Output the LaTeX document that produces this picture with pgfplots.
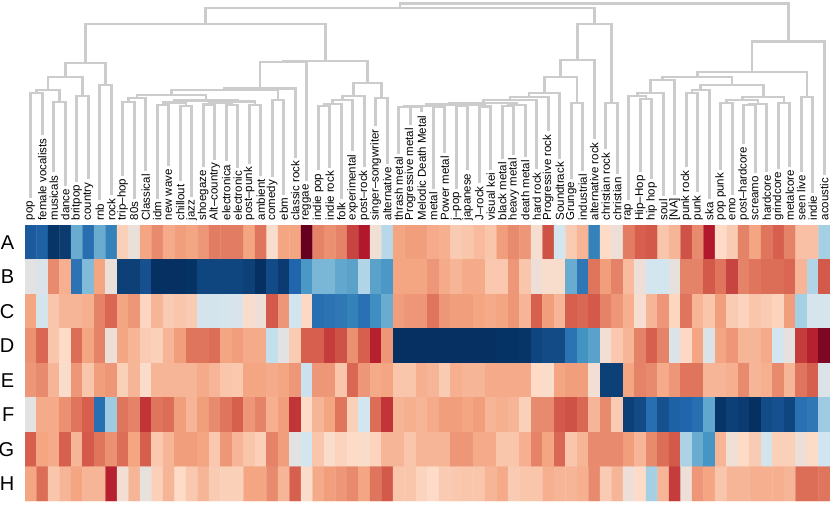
\documentclass[border=0pt]{standalone}
\usepackage{fontspec}
\setmainfont{Liberation Sans}
\usepackage{pgfplots}
\pgfplotsset{compat=1.18}
\definecolor{dendro}{RGB}{204,204,204}
\begin{document}
\begin{tikzpicture}
\useasboundingbox (0,0) rectangle (830bp,-505bp);
% ---------------- dendrogram ----------------
\begin{axis}[at={(25bp,0bp)}, anchor=north west, width=805bp, height=225bp, scale only axis,
  xmin=25, xmax=830, ymin=0, ymax=225, y dir=reverse, hide axis, clip=false]
\addplot[draw=dendro, line width=2.7bp, mark=none, unbounded coords=jump, line join=miter] coordinates {
(30.75,197.8) (30.75,93) (42.25,93) (42.25,135.2) (0,nan)
(53.75,172.3) (53.75,102) (65.25,102) (65.25,185.7) (0,nan)
(36.5,93) (36.5,90) (59.5,90) (59.5,102) (0,nan)
(76.75,181.8) (76.75,96) (88.25,96) (88.25,179.3) (0,nan)
(48,90) (48,77) (82.5,77) (82.5,96) (0,nan)
(99.75,200.4) (99.75,85) (111.25,85) (111.25,195.3) (0,nan)
(65.25,77) (65.25,63) (105.5,63) (105.5,85) (0,nan)
(122.75,175.5) (122.75,102) (134.25,102) (134.25,198.5) (0,nan)
(128.5,102) (128.5,98) (145.75,98) (145.75,171) (0,nan)
(157.25,198.5) (157.25,105) (168.75,105) (168.75,165.9) (0,nan)
(180.25,181.2) (180.25,106) (191.75,106) (191.75,196.6) (0,nan)
(163,105) (163,102.5) (186,102.5) (186,106) (0,nan)
(203.25,167.1) (203.25,104.5) (214.75,104.5) (214.75,159.5) (0,nan)
(226.25,161.4) (226.25,105) (237.75,105) (237.75,167.8) (0,nan)
(209,104.5) (209,102.5) (232,102.5) (232,105) (0,nan)
(249.25,163.9) (249.25,105) (260.75,105) (260.75,176.1) (0,nan)
(220.5,102.5) (220.5,101.5) (255,101.5) (255,105) (0,nan)
(174.5,102.5) (174.5,100.5) (237.75,100.5) (237.75,101.5) (0,nan)
(137.125,98) (137.125,95) (206.125,95) (206.125,100.5) (0,nan)
(272.25,176.7) (272.25,100) (283.75,100) (283.75,194.6) (0,nan)
(171.625,95) (171.625,90) (278,90) (278,100) (0,nan)
(224.81,90) (224.81,88.5) (295.25,88.5) (295.25,157.6) (0,nan)
(260.03,88.5) (260.03,62) (306.75,62) (306.75,181.2) (0,nan)
(318.25,170.3) (318.25,106) (329.75,106) (329.75,167.8) (0,nan)
(324,106) (324,104) (341.25,104) (341.25,199.1) (0,nan)
(332.63,104) (332.63,100) (352.75,100) (352.75,151.2) (0,nan)
(342.69,100) (342.69,96) (364.25,96) (364.25,167.1) (0,nan)
(375.75,126.3) (375.75,98) (387.25,98) (387.25,164) (0,nan)
(353.47,96) (353.47,83) (381.5,83) (381.5,98) (0,nan)
(283.39,62) (283.39,61) (367.48,61) (367.48,83) (0,nan)
(85.38,63) (85.38,24) (325.44,24) (325.44,61) (0,nan)
(398.75,153.7) (398.75,107) (410.25,107) (410.25,125) (0,nan)
(404.5,107) (404.5,106.5) (421.75,106.5) (421.75,112.2) (0,nan)
(433.25,188.9) (433.25,107) (444.75,107) (444.75,153.1) (0,nan)
(413.13,106.5) (413.13,106) (439,106) (439,107) (0,nan)
(456.25,188.9) (456.25,106) (467.75,106) (467.75,170.3) (0,nan)
(479.25,183.1) (479.25,106.5) (490.75,106.5) (490.75,169.7) (0,nan)
(462,106) (462,105) (485,105) (485,106.5) (0,nan)
(426.06,106) (426.06,104.5) (473.5,104.5) (473.5,105) (0,nan)
(502.25,158.8) (502.25,106) (513.75,106) (513.75,155) (0,nan)
(508,106) (508,105) (525.25,105) (525.25,156.9) (0,nan)
(449.78,104.5) (449.78,103) (516.63,103) (516.63,105) (0,nan)
(483.2,103) (483.2,100) (536.75,100) (536.75,169.1) (0,nan)
(509.98,100) (509.98,97) (548.25,97) (548.25,131.4) (0,nan)
(529.1,97) (529.1,93) (559.75,93) (559.75,158.8) (0,nan)
(571.25,178.6) (571.25,103) (582.75,103) (582.75,171) (0,nan)
(544.4,93) (544.4,77) (577,77) (577,103) (0,nan)
(560.7,77) (560.7,60) (594.25,60) (594.25,139) (0,nan)
(605.75,149.3) (605.75,103) (617.25,103) (617.25,174.2) (0,nan)
(577.5,60) (577.5,24) (611.5,24) (611.5,103) (0,nan)
(205.41,24) (205.41,8) (594.5,8) (594.5,24) (0,nan)
(640.25,172.3) (640.25,99) (651.75,99) (651.75,179.3) (0,nan)
(628.75,200.4) (628.75,96) (646,96) (646,99) (0,nan)
(637.38,96) (637.38,93) (663.25,93) (663.25,195.9) (0,nan)
(650.31,93) (650.31,80) (674.75,80) (674.75,194.6) (0,nan)
(686.25,167.1) (686.25,93) (697.75,93) (697.75,192.1) (0,nan)
(692,93) (692,90) (709.25,90) (709.25,199.1) (0,nan)
(720.75,169.7) (720.75,103) (732.25,103) (732.25,194.6) (0,nan)
(743.75,143.5) (743.75,105) (755.25,105) (755.25,172.9) (0,nan)
(749.5,105) (749.5,104) (766.75,104) (766.75,171.6) (0,nan)
(726.5,103) (726.5,100) (758.13,100) (758.13,104) (0,nan)
(778.25,169.1) (778.25,103) (789.75,103) (789.75,166.5) (0,nan)
(742.31,100) (742.31,97) (784,97) (784,103) (0,nan)
(700.63,90) (700.63,85) (763.16,85) (763.16,97) (0,nan)
(662.53,80) (662.53,77) (731.89,77) (731.89,85) (0,nan)
(801.25,171.6) (801.25,97) (812.75,97) (812.75,192.7) (0,nan)
(697.21,77) (697.21,72) (807,72) (807,97) (0,nan)
(752.1,72) (752.1,41.7) (824.25,41.7) (824.25,174.8) (0,nan)
(399.96,8) (399.96,3.5) (788.18,3.5) (788.18,41.7)
};
\end{axis}
% ---------------- heatmap ----------------
\begin{axis}[at={(25bp,-225bp)}, anchor=north west, width=805bp, height=276bp, scale only axis,
  xmin=0.5, xmax=70.5, ymin=0.5, ymax=8.5, y dir=reverse,
  axis line style={draw=none}, major tick length=0pt,
  colormap={rdbu}{rgb255=(5,48,97) rgb255=(33,102,172) rgb255=(67,147,195) rgb255=(146,197,222) rgb255=(209,229,240) rgb255=(226,226,226) rgb255=(253,219,199) rgb255=(244,165,130) rgb255=(214,96,77) rgb255=(178,24,43) rgb255=(103,0,31)},
  point meta min=0, point meta max=10,
  xtick={1,...,70},
  xticklabels={pop,female vocalists,musicals,dance,britpop,country,rnb,rock,trip–hop,80s,Classical,idm,new wave,chillout,jazz,shoegaze,Alt–country,electronica,electronic,post–punk,ambient,comedy,ebm,classic rock,reggae,indie pop,indie rock,folk,experimental,post–rock,singer–songwriter,alternative,thrash metal,Progressive metal,Melodic Death Metal,metal,Power metal,j–pop,japanese,J–rock,visual kei,black metal,heavy metal,death metal,hard rock,Progressive rock,Soundtrack,Grunge,industrial,alternative rock,christian rock,christian,rap,Hip–Hop,hip hop,soul,{[NA]},punk rock,punk,ska,pop punk,emo,post–hardcore,screamo,hardcore,grindcore,metalcore,seen live,indie,acoustic},
  xticklabel pos=right,
  xticklabel shift=4.5bp,
  xticklabel style={rotate=90, anchor=west, inner sep=0pt, font=\fontsize{11.5bp}{12bp}\selectfont},
  ytick={1,...,8}, yticklabels={A,B,C,D,E,F,G,H},
  yticklabel shift=10.5bp,
  yticklabel style={anchor=east, inner sep=0pt, font=\fontsize{20bp}{20bp}\selectfont},
]
\addplot[matrix plot*, mesh/cols=70, mesh/rows=8, point meta=explicit]
table[row sep=\\, header=false, x expr={\coordindex-70*floor((\coordindex+0.5)/70)+1}, y expr={floor((\coordindex+0.5)/70)+1}, meta index=0] {
0.8\\0.9\\0.1\\0.2\\2.5\\1.2\\2.5\\1.6\\6.2\\5.3\\7.0\\7.4\\6.9\\7.1\\7.0\\7.2\\7.6\\7.6\\7.6\\7.0\\7.7\\5.8\\7.0\\7.0\\10\\7.5\\7.3\\7.5\\8.4\\9.0\\5.5\\3.6\\7.0\\7.1\\7.1\\6.9\\6.8\\6.3\\6.4\\6.6\\6.4\\7.1\\7.4\\7.2\\5.7\\8.2\\4.1\\6.3\\6.7\\1.6\\6.0\\5.4\\7.6\\8.0\\8.1\\6.4\\6.7\\8.2\\7.4\\9.0\\6.0\\6.3\\7.5\\7.0\\7.7\\8.0\\7.5\\6.5\\6.5\\3.3\\
5.0\\4.6\\7.4\\6.8\\1.3\\2.8\\7.0\\5.3\\0.3\\0.3\\0.6\\0\\0\\0\\0.05\\0.4\\0.4\\0.4\\0.4\\0.3\\0\\0.5\\0.2\\1.0\\2.1\\2.7\\2.7\\2.4\\2.3\\3.5\\2.3\\2.1\\7.0\\7.0\\7.0\\7.2\\6.9\\6.7\\6.9\\6.9\\6.35\\6.35\\7.2\\6.4\\5.4\\5.8\\5.8\\2.5\\1.4\\7.7\\7.1\\7.5\\6.6\\5.4\\4.1\\4.1\\5.2\\7.5\\7.5\\8.1\\7.7\\8.4\\7.5\\7.7\\7.8\\7.8\\7.9\\6.7\\3.5\\8.1\\
7.0\\4.2\\6.4\\6.7\\6.7\\6.8\\7.5\\7.9\\7.0\\7.2\\6.1\\6.7\\6.3\\6.4\\6.3\\4.2\\4.2\\4.3\\4.4\\5.8\\5.4\\8.1\\7.2\\4.0\\6.05\\1.2\\1.3\\1.4\\1.6\\1.25\\1.9\\2.5\\7.1\\7.2\\7.2\\7.7\\7.2\\7.1\\7.1\\7.0\\6.9\\7.0\\7.2\\6.7\\8.0\\7.1\\6.7\\8.0\\7.9\\8.1\\7.5\\7.2\\6.8\\5.7\\6.7\\7.2\\6.1\\7.7\\6.7\\6.4\\7.1\\6.3\\6.15\\6.4\\6.3\\6.15\\7.1\\3.3\\4.3\\4.3\\
7.3\\7.9\\6.4\\6.0\\7.8\\7.0\\7.5\\5.4\\7.0\\6.7\\6.3\\6.2\\6.7\\7.1\\7.7\\7.7\\7.8\\7.0\\7.1\\6.9\\6.9\\3.8\\5.0\\6.3\\8.0\\8.0\\8.5\\8.2\\7.3\\8.0\\8.9\\7.2\\0\\0\\0\\0\\0\\0\\0\\0\\0\\0.05\\0.05\\0.1\\0.4\\0.5\\0.5\\1.3\\2.0\\2.3\\5.6\\6.35\\6.7\\7.5\\8.0\\7.5\\4.6\\6.05\\7.0\\4.6\\7.0\\7.2\\6.7\\6.7\\6.9\\4.1\\5.2\\8.5\\8.9\\9.7\\
7.2\\7.4\\6.7\\5.9\\7.2\\6.4\\7.1\\7.2\\6.2\\6.7\\5.9\\6.7\\6.7\\6.7\\6.7\\6.9\\6.7\\6.4\\6.35\\7.0\\7.0\\6.9\\7.0\\7.2\\3.9\\7.2\\7.2\\6.4\\7.9\\7.2\\6.9\\7.0\\6.4\\6.4\\6.8\\6.7\\6.3\\6.8\\6.7\\6.7\\6.9\\6.9\\6.9\\6.9\\6.0\\5.9\\7.0\\7.1\\7.1\\5.6\\0.3\\0.3\\7.0\\7.5\\7.4\\6.9\\7.2\\7.7\\7.7\\6.7\\6.7\\6.8\\7.4\\6.7\\6.8\\7.4\\6.7\\7.7\\8.0\\4.6\\
5.0\\6.9\\6.9\\7.3\\7.7\\8.0\\1.2\\3.2\\7.7\\7.5\\8.6\\7.7\\7.8\\7.1\\6.7\\7.1\\7.4\\7.7\\8.0\\7.2\\7.5\\6.8\\7.1\\8.6\\6.0\\6.7\\7.0\\7.7\\6.2\\4.1\\7.8\\8.6\\6.7\\6.8\\6.7\\6.9\\7.1\\7.1\\7.0\\7.1\\6.7\\6.8\\6.7\\6.2\\7.4\\7.4\\8.1\\8.2\\7.9\\6.7\\7.4\\6.3\\0.3\\0.5\\1.2\\0.6\\0.9\\1.0\\1.2\\2.4\\0.1\\0.3\\0.2\\0\\0.5\\0.6\\0.4\\1.25\\1.4\\3.2\\
8.0\\7.0\\6.9\\8.0\\6.7\\8.1\\7.7\\7.3\\7.8\\7.0\\8.0\\6.35\\6.7\\7.1\\7.1\\7.0\\6.35\\7.2\\6.7\\6.4\\6.2\\7.5\\7.1\\5.0\\4.1\\6.4\\5.9\\6.15\\6.0\\5.9\\6.15\\6.7\\6.7\\6.4\\6.7\\6.7\\6.7\\7.2\\7.2\\6.9\\6.9\\6.4\\6.4\\6.8\\7.5\\7.0\\7.9\\6.4\\6.7\\7.4\\7.4\\7.4\\7.1\\6.7\\7.4\\7.8\\8.1\\3.4\\2.5\\2.05\\6.7\\5.5\\6.0\\6.3\\4.2\\6.2\\6.2\\5.4\\6.0\\4.0\\
7.0\\7.8\\6.4\\6.7\\7.0\\6.7\\6.7\\8.9\\5.6\\6.7\\5.2\\6.2\\6.7\\6.0\\6.35\\6.7\\6.3\\6.2\\6.2\\7.0\\7.0\\7.4\\6.7\\8.0\\5.9\\6.9\\7.1\\7.2\\7.4\\7.0\\7.7\\8.1\\6.4\\6.4\\6.15\\6.0\\6.3\\6.35\\6.4\\6.4\\6.7\\6.9\\6.3\\6.4\\6.4\\6.8\\6.7\\6.7\\6.8\\7.4\\6.3\\6.7\\5.4\\6.0\\3.3\\6.7\\8.5\\5.4\\7.2\\7.0\\6.4\\6.7\\6.7\\6.8\\6.8\\6.8\\6.7\\7.8\\7.8\\7.7\\
};
\end{axis}
\end{tikzpicture}
\end{document}
